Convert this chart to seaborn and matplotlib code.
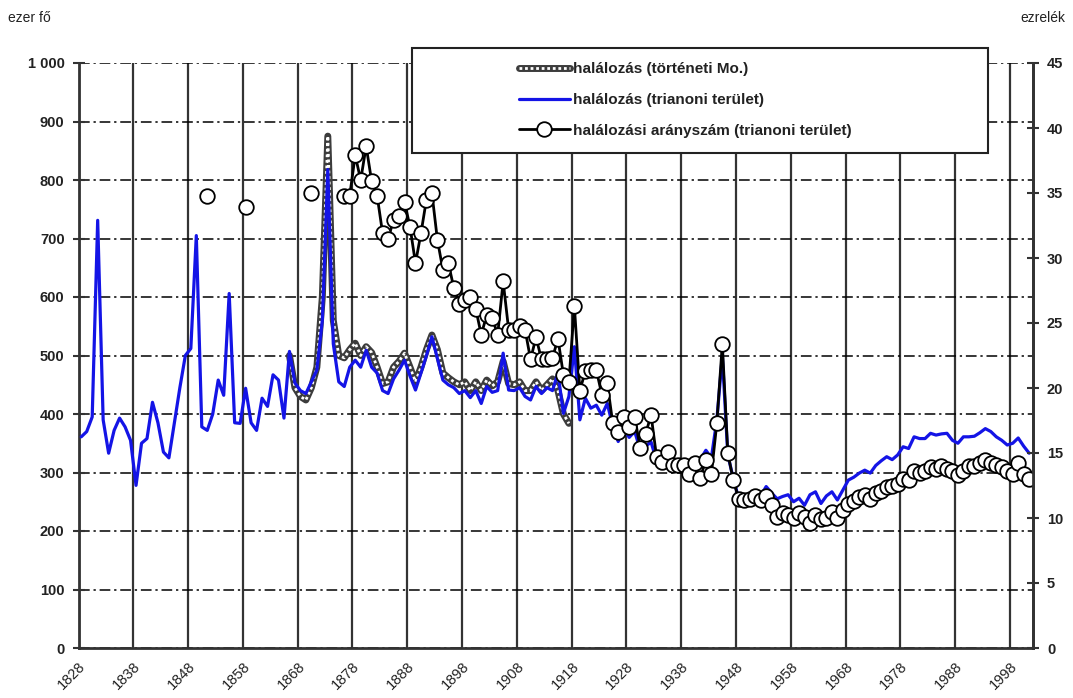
import matplotlib
matplotlib.use('Agg')
import matplotlib.pyplot as plt
from matplotlib.patches import Rectangle
import numpy as np
import seaborn as sns

# halálozás, trianoni terület (ezer fő), 1828-2001
blue_years = list(range(1828, 2002))
blue_deaths = [
    361, 370, 395, 731, 390, 333, 372, 393, 378, 355,   # 1828-1837
    278, 350, 358, 420, 385, 335, 325, 385, 445, 500,   # 1838-1847
    512, 705, 378, 372, 400, 458, 432, 606, 385, 384,   # 1848-1857
    444, 385, 372, 427, 413, 467, 458, 393, 507, 453,   # 1858-1867
    440, 435, 455, 475, 560, 818, 520, 455, 447, 480,   # 1868-1877
    492, 480, 509, 480, 470, 440, 435, 460, 475, 492,   # 1878-1887
    465, 441, 470, 500, 532, 495, 458, 450, 445, 435,   # 1888-1897
    440, 428, 440, 418, 447, 437, 440, 504, 441, 440,   # 1898-1907
    445, 430, 424, 447, 435, 445, 440, 470, 401, 430,   # 1908-1917
    515, 390, 427, 410, 415, 398, 418, 380, 353, 376,   # 1918-1927
    360, 370, 340, 345, 352, 320, 315, 322, 310, 312,   # 1928-1937
    308, 300, 315, 322, 338, 325, 390, 500, 330, 290,   # 1938-1947
    255, 255, 252, 265, 260, 276, 265, 255, 259, 262,   # 1948-1957
    250, 256, 244, 262, 267, 247, 260, 267, 253, 270,   # 1958-1967
    287, 292, 299, 304, 299, 312, 320, 327, 322, 330,   # 1968-1977
    344, 341, 361, 358, 358, 367, 364, 366, 367, 355,   # 1978-1987
    350, 361, 361, 362, 368, 375, 370, 361, 355, 347,   # 1988-1997
    350, 359, 345, 333,                                 # 1998-2001
]

# halálozás, történeti Magyarország (ezer fő), 1866-1917
hist_years = list(range(1866, 1918))
hist_deaths = [
    500, 445, 430, 424, 445, 480, 600, 875, 560, 500,   # 1866-1875
    496, 510, 521, 500, 515, 505, 480, 452, 455, 480,   # 1876-1885
    490, 504, 480, 455, 480, 510, 535, 510, 470, 462,   # 1886-1895
    455, 450, 455, 440, 455, 440, 458, 448, 455, 490,   # 1896-1905
    452, 450, 455, 440, 440, 455, 440, 450, 460, 440,   # 1906-1915
    400, 384,                                           # 1916-1917
]

# halálozási arányszám (ezrelék)
early_years = [1851, 1858, 1870]
early_rates = [34.8, 33.9, 35.0]
rate_years = list(range(1876, 2002))
rates = [
    34.8, 34.8, 37.9, 36.0, 38.6, 35.9, 34.8, 31.9, 31.5, 32.9,   # 1876-1885
    33.2, 34.3, 32.4, 29.6, 31.9, 34.5, 35.0, 31.4, 29.1, 29.6,   # 1886-1895
    27.7, 26.5, 26.8, 27.0, 26.1, 24.1, 25.6, 25.4, 24.1, 28.2,   # 1896-1905
    24.5, 24.5, 24.8, 24.5, 22.2, 23.9, 22.2, 22.2, 22.3, 23.8,   # 1906-1915
    21.0, 20.5, 26.3, 19.8, 21.3, 21.4, 21.4, 19.5, 20.4, 17.3,   # 1916-1925
    16.6, 17.8, 17.0, 17.8, 15.4, 16.5, 17.9, 14.7, 14.3, 15.1,   # 1926-1935
    14.1, 14.1, 14.1, 13.4, 14.2, 13.1, 14.5, 13.4, 17.3, 23.4,   # 1936-1945
    15.0, 12.9, 11.5, 11.4, 11.5, 11.7, 11.4, 11.7, 11.0, 10.1,   # 1946-1955
    10.4, 10.2, 10.0, 10.4, 10.1, 9.6, 10.2, 9.9, 10.0, 10.5,     # 1956-1965
    10.0, 10.6, 11.1, 11.3, 11.6, 11.8, 11.5, 11.9, 12.1, 12.4,   # 1966-1975
    12.5, 12.6, 13.0, 12.9, 13.6, 13.5, 13.6, 13.9, 13.8, 14.0,   # 1976-1985
    13.8, 13.6, 13.3, 13.6, 14.0, 14.0, 14.2, 14.5, 14.2, 14.1,   # 1986-1995
    13.9, 13.6, 13.4, 14.2, 13.4, 13.0,                           # 1996-2001
]

tick_years = list(range(1828, 2002, 10))
left_ticks = list(range(0, 1001, 100))
left_labels = ['0', '100', '200', '300', '400', '500', '600', '700', '800', '900', '1 000']
right_ticks = list(range(0, 46, 5))

sns.set_style('white')
plt.rcParams['font.family'] = ['Liberation Sans', 'DejaVu Sans']
txt = '#222222'

fig = plt.figure(figsize=(10.73, 6.98), dpi=100)
ax = fig.add_axes([78.5 / 1073, 50 / 698, (1033 - 78.5) / 1073, 585 / 698])

# historic Hungary: checkered thick line
sns.lineplot(x=hist_years, y=hist_deaths, ax=ax, color='#3c3c3c', linewidth=5, zorder=3)
h_dark = ax.lines[-1]
sns.lineplot(x=hist_years, y=hist_deaths, ax=ax, color='white', linewidth=2,
             linestyle=(0, (1, 1)), zorder=3.1)
h_light = ax.lines[-1]
sns.lineplot(x=blue_years, y=blue_deaths, ax=ax, color='#1414e6', linewidth=2.3, zorder=4)
h_blue = ax.lines[-1]

ax.set_xlim(1827.5, 2001.7)
ax.set_ylim(0, 1000)
ax.set_xticks([y - 0.5 for y in tick_years])
ax.set_xticklabels([str(y) for y in tick_years], rotation=45, ha='right', va='top',
                   rotation_mode='anchor', fontsize=10.5, color=txt)
ax.set_yticks(left_ticks)
ax.set_yticklabels(left_labels, fontsize=10.5, fontweight='bold', color=txt)
ax.tick_params(axis='x', direction='out', length=4, width=1.5, color='#333333', pad=4)
ax.tick_params(axis='y', direction='inout', length=8, width=1.5, color='#333333', pad=6)
ax.set_xlabel('')
ax.set_ylabel('')

ax.yaxis.grid(True, color='black', linewidth=1.1, linestyle=(0, (7, 2.5, 1.5, 2.5)))
ax.xaxis.grid(True, color='#333333', linewidth=1.6, linestyle='-')
ax.set_axisbelow(True)
for side in ['left', 'bottom', 'right']:
    ax.spines[side].set_color('#333333')
    ax.spines[side].set_linewidth(2)
ax.spines['top'].set_visible(False)

ax2 = ax.twinx()
sns.lineplot(x=rate_years, y=rates, ax=ax2, color='black', linewidth=2,
             marker='o', markersize=10.5, markerfacecolor='white',
             markeredgecolor='black', markeredgewidth=1.3)
h_rate = ax2.lines[-1]
sns.scatterplot(x=early_years, y=early_rates, ax=ax2, s=110, color='white',
                edgecolor='black', linewidth=1.3, zorder=5)
ax2.set_ylim(0, 45)
ax2.set_yticks(right_ticks)
ax2.set_yticklabels([str(t) for t in right_ticks], fontsize=10.5, fontweight='bold', color=txt)
ax2.tick_params(axis='y', direction='inout', length=8, width=1.5, color='#333333', pad=6)
ax2.set_ylabel('')
ax2.grid(False)
for side in ['left', 'bottom', 'top']:
    ax2.spines[side].set_visible(False)
ax2.spines['right'].set_color('#333333')
ax2.spines['right'].set_linewidth(2)

fig.text(8 / 1073, 1 - 18 / 698, 'ezer fő', fontsize=10, color=txt, va='center', ha='left')
fig.text(1065 / 1073, 1 - 18 / 698, 'ezrelék', fontsize=10, color=txt, va='center', ha='right')

# legend box
box = Rectangle((412 / 1073, 1 - 153 / 698), (988 - 412) / 1073, 105 / 698,
                transform=fig.transFigure, facecolor='white', edgecolor='#222222',
                linewidth=1.5, zorder=5)
fig.patches.append(box)
leg = fig.legend([(h_dark, h_light), h_blue, h_rate],
                 ['halálozás (történeti Mo.)', 'halálozás (trianoni terület)',
                  'halálozási arányszám (trianoni terület)'],
                 loc='upper left', bbox_to_anchor=(507 / 1073, 1 - 50 / 698),
                 frameon=False, prop={'size': 11, 'weight': 'bold'},
                 handlelength=3.3, handletextpad=0.25,
                 labelspacing=1.1, borderpad=0.3)
for t in leg.get_texts():
    t.set_color(txt)
leg.set_zorder(6)

fig.savefig('out.png', dpi=100)
